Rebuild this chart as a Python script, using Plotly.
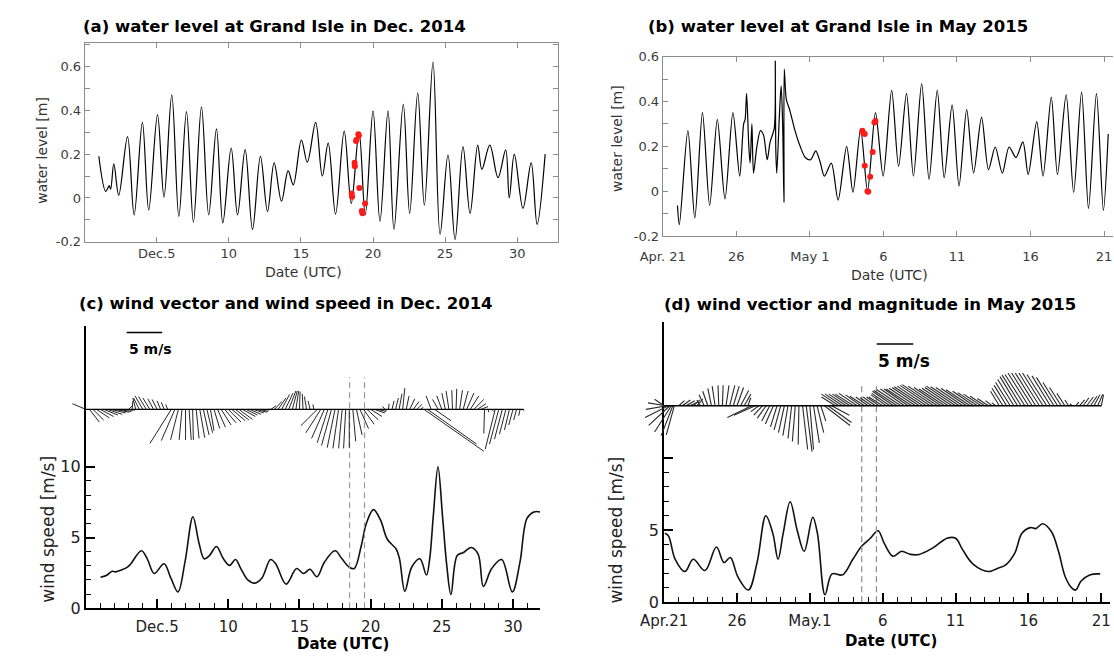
import plotly.graph_objects as go

W, H = 1114, 661
FONT = "DejaVu Sans"

# ---------------- data ----------------
# (a) water level at Grand Isle, Dec 2014 (day of December, m)
wl_dec_t = [0.98, 1.46, 1.7, 1.8, 2.02, 2.36, 2.97, 3.43, 4.0, 4.44, 5.05, 5.5, 6.04, 6.53, 7.06, 7.54,
            8.1, 8.6, 9.14, 9.58, 10.16, 10.6, 11.13, 11.64, 12.19, 12.68, 13.14, 13.65, 14.11, 14.47,
            15.03, 15.44, 16.02, 16.48, 16.89, 17.4, 18.0, 18.49, 19.03, 19.46, 20.0, 20.48, 21.04,
            21.45, 22.1, 22.54, 23.1, 23.56, 24.16, 24.65, 25.2, 25.69, 26.24, 26.73, 27.26, 27.55,
            28.1, 28.67, 29.2, 29.45, 29.8, 30.4, 30.97, 31.38, 31.94]
wl_dec_v = [0.19, 0.03, 0.056, 0.04, 0.155, 0.012, 0.28, -0.077, 0.345, -0.055, 0.38, 0.004, 0.47, -0.084,
            0.394, -0.11, 0.415, -0.077, 0.315, -0.114, 0.227, -0.077, 0.22, -0.144, 0.19, -0.062, 0.16,
            -0.015, 0.123, 0.06, 0.264, 0.163, 0.345, 0.1, 0.25, -0.074, 0.305, -0.025, 0.3, -0.077,
            0.397, -0.107, 0.397, -0.144, 0.427, -0.07, 0.479, -0.033, 0.62, -0.166, 0.197, -0.19,
            0.234, -0.07, 0.241, 0.13, 0.241, 0.093, 0.219, 0.0, 0.2, -0.047, 0.16, -0.12, 0.2]
red_dec_t = [18.52, 18.55, 18.72, 18.74, 18.82, 18.86, 18.98, 19.02, 19.05, 19.22, 19.27, 19.45]
red_dec_v = [0.02, 0.005, 0.16, 0.145, 0.26, 0.265, 0.29, 0.285, 0.045, -0.06, -0.07, -0.025]

# (b) water level at Grand Isle, Apr/May 2015 (days since Apr 21, m)
wl_may_t = [1.0, 1.13, 1.71, 2.18, 2.7, 3.19, 3.71, 4.23, 4.77, 5.23, 5.5, 5.6, 5.7, 5.85, 5.94, 6.06,
            6.17, 6.4, 6.64, 6.85, 7.1, 7.3, 7.58, 7.65, 7.68, 7.75, 7.93, 8.05, 8.15, 8.24, 8.26, 8.4,
            8.64, 8.99, 9.34, 9.69, 10.05, 10.4, 10.7, 10.99, 11.46, 11.92, 12.5, 12.93, 13.45, 13.92,
            14.46, 14.98, 15.56, 16.03, 16.57, 17.04, 17.6, 18.1, 18.66, 19.13, 19.67, 20.14, 20.66,
            21.13, 21.67, 22.14, 22.6, 23.08, 23.54, 24.01, 24.48, 24.84, 25.42, 25.85, 26.41, 26.83,
            27.42, 27.93, 28.47, 28.94, 29.48, 29.95, 30.28]
wl_may_v = [-0.064, -0.15, 0.27, -0.12, 0.35, -0.064, 0.32, -0.035, 0.35, 0.067, 0.3, 0.32, 0.436, 0.2,
            0.125, 0.3, 0.08, 0.2, 0.27, 0.25, 0.14, 0.22, 0.28, 0.58, 0.2, 0.08, 0.34, 0.47, 0.3, -0.05,
            0.545, 0.41, 0.36, 0.27, 0.2, 0.15, 0.14, 0.18, 0.13, 0.067, 0.125, -0.04, 0.2, -0.005, 0.277,
            0.0, 0.35, 0.067, 0.45, 0.11, 0.436, 0.067, 0.48, 0.052, 0.45, 0.06, 0.385, 0.023, 0.364,
            0.081, 0.33, 0.096, 0.197, 0.08, 0.197, 0.15, 0.22, 0.074, 0.31, 0.067, 0.42, 0.074, 0.43,
            -0.006, 0.443, -0.078, 0.436, -0.086, 0.255]
red_may_t = [13.57, 13.64, 13.73, 13.73, 13.92, 13.97, 14.1, 14.27, 14.39, 14.46]
red_may_v = [0.27, 0.258, 0.255, 0.113, 0.0, -0.003, 0.064, 0.175, 0.306, 0.313]

# (c) wind speed Dec 2014 (day of December, m/s)
spd_dec_t = [1.03, 1.5, 1.81, 2.1, 2.5, 2.92, 3.16, 3.9, 4.31, 4.8, 5.49, 5.98, 6.47, 6.96, 7.52, 7.94,
             8.31, 8.68, 9.17, 9.66, 10.1, 10.51, 10.88, 11.37, 11.86, 12.35, 12.97, 13.33, 14.07, 14.8,
             15.29, 15.74, 16.23, 16.76, 17.5, 17.99, 18.48, 18.85, 19.34, 19.7, 20.2, 20.69, 21.18,
             21.8, 22.03, 22.4, 22.89, 23.46, 23.92, 24.15, 24.4, 24.73, 25.05, 25.35, 25.64, 26.08,
             26.52, 27.06, 27.55, 27.92, 28.5, 29.2, 29.95, 30.49, 30.98, 31.47, 31.9]
spd_dec_v = [2.18, 2.35, 2.6, 2.57, 2.7, 2.9, 3.14, 4.06, 3.49, 2.45, 3.14, 2.1, 1.15, 3.26, 6.47, 4.63,
             3.49, 3.72, 4.36, 3.49, 3.03, 3.44, 2.8, 2.0, 1.77, 2.11, 3.44, 3.14, 1.7, 2.8, 2.45, 2.75,
             2.22, 3.26, 4.06, 3.49, 2.91, 2.8, 4.4, 6.0, 6.97, 6.24, 4.86, 4.17, 3.49, 1.19, 2.91, 3.49,
             2.34, 3.5, 6.5, 10.0, 6.5, 3.0, 0.96, 3.72, 3.94, 4.29, 3.83, 1.54, 2.8, 3.44, 1.15, 3.26,
             6.35, 6.81, 6.81]

# (d) wind speed Apr/May 2015 (days since Apr 21, m/s)
spd_may_t = [0.05, 0.3, 0.76, 1.43, 2.0, 2.8, 3.59, 4.11, 4.54, 5.07, 5.78, 6.38, 6.98, 7.46, 7.82, 8.17,
             8.65, 9.13, 9.61, 10.2, 10.52, 11.04, 11.52, 12.24, 12.95, 13.55, 14.15, 14.68, 15.1, 15.7,
             16.3, 16.9, 17.5, 18.45, 19.41, 20.0, 20.48, 21.2, 22.28, 22.87, 23.42, 24.07, 24.55,
             25.14, 25.5, 25.98, 26.58, 27.06, 27.53, 28.0, 28.25, 28.6, 29.2, 29.92]
spd_may_v = [4.78, 4.6, 2.98, 2.13, 2.98, 2.2, 3.83, 2.76, 3.1, 1.75, 0.85, 2.76, 6.0, 4.78, 2.98, 4.78,
             6.97, 5.0, 3.54, 5.9, 4.78, 0.52, 1.97, 1.9, 2.98, 3.88, 4.44, 4.96, 4.1, 3.2, 3.54, 3.32,
             3.32, 3.77, 4.44, 4.44, 3.65, 2.65, 2.13, 2.35, 2.58, 3.43, 4.78, 5.18, 5.11, 5.45, 4.89,
             3.54, 1.75, 0.96, 0.85, 1.46, 1.9, 1.97]

# (c) wind vectors Dec 2014 (day, u and v in m/s)
stk_dec_t = [0, 0.25, 0.5, 0.75, 1, 1.25, 1.5, 1.75, 2, 2.25, 2.5, 2.75, 3, 3.25, 3.5, 3.75, 4, 4.25, 4.5,
             4.75, 5, 5.25, 5.5, 5.75, 6, 6.25, 6.5, 6.75, 7, 7.25, 7.5, 7.75, 8, 8.25, 8.5, 8.75, 9, 9.25,
             9.5, 9.75, 10, 10.25, 10.5, 10.75, 11, 11.25, 11.5, 11.75, 12, 12.25, 12.5, 12.75, 13, 13.25,
             13.5, 13.75, 14, 14.25, 14.5, 14.75, 15, 15.25, 15.5, 15.75, 16, 16.25, 16.5, 16.75, 17,
             17.25, 17.5, 17.75, 18, 18.25, 18.5, 18.75, 19, 19.25, 19.5, 19.75, 20, 20.25, 20.5, 20.75,
             21, 21.25, 21.5, 21.75, 22, 22.25, 22.5, 22.75, 23, 23.25, 23.5, 23.75, 24, 24.25, 24.5,
             24.75, 25, 25.25, 25.5, 25.75, 26, 26.25, 26.5, 26.75, 27, 27.25, 27.5, 27.75, 28, 28.25,
             28.5, 28.75, 29, 29.25, 29.5, 29.75, 30, 30.25, 30.5, 30.75]
stk_dec_u = [-1.9, 1.4, 1.5, 1.8, 1.9, 2.0, 2.1, 2.1, 2.1, 1.9, 1.6, 1.4, 0.5, 0.1, -0.4, -0.8, -1.1, -1.1,
             -1.0, -0.8, -0.7, -0.5, -0.4, -0.3, -3.0, -1.9, -1.1, -0.4, 0.0, 0.3, 0.1, 0.4, 0.7, 0.8,
             0.8, 0.5, 0.8, 1.1, 1.4, 1.6, 1.8, 1.9, 1.9, 1.9, 1.8, 1.6, 1.6, 1.5, 1.4, 1.1, 0.8, 0.5,
             0.7, 1.0, 1.1, 1.1, 1.1, 1.0, 0.7, 0.4, 0.1, -0.1, -0.3, -0.3, -0.1, -2.3, -2.1, -1.8, -1.5,
             -1.4, -1.1, -0.8, -0.5, -0.3, 0.0, 0.4, 0.8, 1.2, 1.5, 1.6, 1.6, 1.5, 1.2, 0.8, -0.3, 0.1,
             0.3, 0.4, 0.4, 0.3, 0.4, 0.7, 0.8, 0.7, 0.4, 8.4, 6.9, -0.7, 2.3, -0.8, -0.7, -0.5, -0.4,
             -0.1, 0.1, 0.4, 0.7, 1.0, 1.2, 1.4, 1.2, 1.0, -0.1, 0.1, 0.3, -1.4, -1.3, -1.1, -0.9, -0.7,
             -0.6, -0.4, -0.2, 0.0]
stk_dec_v = [0.8, -1.8, -1.5, -1.2, -1.0, -0.8, -0.7, -0.5, -0.4, -0.3, -0.1, -0.1, 0.5, 1.2, 1.6, 1.6,
             1.9, 1.8, 1.6, 1.5, 1.4, 1.2, 1.0, 0.7, -4.8, -4.4, -4.3, -4.3, -4.3, -4.3, -4.3, -4.1, -4.0,
             -3.6, -3.3, -3.0, -2.7, -2.5, -2.2, -1.9, -1.8, -1.6, -1.5, -1.4, -1.0, -0.8, -0.7, -0.5,
             -0.4, -0.3, -0.1, 0.0, 0.5, 1.1, 1.6, 2.1, 2.3, 2.6, 2.6, 2.6, 2.5, 2.2, 1.8, 1.2, 0.7, -2.3,
             -3.3, -4.1, -4.7, -5.1, -5.4, -5.5, -5.5, -5.5, -5.4, -4.5, -3.6, -2.7, -2.1, -1.5, -1.0,
             -0.5, -0.3, -0.1, 0.4, 0.8, 1.2, 1.6, 2.2, 3.0, 1.9, 1.5, 1.1, 0.7, 0.3, -5.9, -4.9, 1.9,
             -1.6, 1.4, 1.9, 2.3, 2.6, 2.7, 2.9, 2.7, 2.6, 2.3, 1.9, 1.4, 0.8, 0.4, -3.4, -0.4, -0.3,
             -5.6, -4.9, -4.2, -3.5, -2.9, -2.2, -1.5, -0.9, -0.2]

# (d) wind vectors Apr/May 2015 (days since Apr 21, u and v in m/s)
stk_may_t = [0, 0.1, 0.2, 0.3, 0.4, 0.5, 0.6, 0.7, 1, 1.25, 1.5, 1.75, 2, 2.25, 2.5, 2.75, 3, 3.25, 3.5,
             3.75, 4, 4.25, 4.5, 4.75, 5, 5.25, 5.5, 5.75, 6, 6.25, 6.5, 6.75, 7, 7.25, 7.5, 7.75, 8, 8.25,
             8.5, 8.75, 9, 9.25, 9.5, 9.75, 10, 10.25, 10.5, 10.75, 11, 11.25, 11.5, 11.75, 12, 12.25,
             12.5, 12.75, 13, 13.25, 13.5, 13.75, 14, 14.25, 14.5, 14.75, 15, 15.25, 15.5, 15.75, 16,
             16.25, 16.5, 16.75, 17, 17.25, 17.5, 17.75, 18, 18.25, 18.5, 18.75, 19, 19.25, 19.5, 19.75,
             20, 20.25, 20.5, 20.75, 21, 21.25, 21.5, 21.75, 22, 22.25, 22.5, 22.75, 23, 23.25, 23.5,
             23.75, 24, 24.25, 24.5, 24.75, 25, 25.25, 25.5, 25.75, 26, 26.25, 26.5, 26.75, 27, 27.25,
             27.5, 27.75, 28, 28.25, 28.5, 28.75, 29, 29.25, 29.5, 29.75, 30]
stk_may_u = [-1.3, -2.4, -2.9, -3.2, -2.9, -2.3, -1.6, -1.1, 0.8, 1.1, 1.2, 1.1, 0.9, 0.8, -0.5, -0.7,
             -0.7, -0.5, -0.4, -0.1, 0.1, 0.4, 0.7, 0.8, 0.9, 1.1, 0.9, 0.4, -3.3, -2.9, -1.1, -1.2, -1.2,
             -1.1, -1.1, -0.9, -0.9, -0.8, -0.7, -0.5, -0.4, -0.1, 0.7, 0.8, 0.5, 0.8, 0.9, 0.7, 3.5, 3.2,
             2.4, -1.9, -2.4, -2.4, -2.4, -2.4, -2.5, -2.5, -2.1, -2.0, -1.7, -1.6, -1.7, -1.7, -1.9,
             -2.1, -2.5, -2.9, -3.2, -3.3, -3.3, -3.3, -3.5, -3.6, -3.7, -3.9, -4.0, -4.1, -4.3, -4.0,
             -3.7, -3.5, -3.6, -3.7, -4.0, -3.9, -3.7, -3.5, -3.3, -2.9, -2.7, -2.4, -2.0, -1.5, -0.9,
             -0.5, -1.2, -1.5, -1.7, -2.0, -2.2, -2.4, -2.6, -2.7, -2.8, -2.8, -2.8, -2.8, -2.8, -2.7,
             -2.5, -2.4, -2.0, -1.6, -1.1, -0.5, -0.3, 0.4, 0.7, 0.8, 0.9, 0.9, 0.8, 0.7, 0.3]
stk_may_v = [0.9, 0.4, -0.5, -1.6, -2.7, -3.6, -4.1, -4.0, 0.7, 0.8, 0.7, 0.5, 0.8, 0.9, 0.8, 1.5, 2.0,
             2.4, 2.7, 2.8, 2.8, 2.8, 2.8, 2.7, 2.5, 2.1, 1.6, 1.1, -1.6, -1.3, -0.8, -1.3, -1.7, -2.1,
             -2.5, -2.9, -3.3, -3.7, -4.1, -4.5, -4.9, -5.3, -6.0, -6.3, -6.0, -5.1, -3.7, -2.1, -2.7,
             -2.3, -1.3, 1.2, 1.6, 1.6, 1.6, 1.6, 1.6, 1.7, 1.5, 1.3, 1.2, 1.1, 1.2, 1.2, 1.2, 1.5, 1.7,
             2.0, 2.1, 2.2, 2.3, 2.3, 2.3, 2.4, 2.5, 2.6, 2.7, 2.8, 2.9, 2.7, 2.5, 2.3, 2.4, 2.5, 2.7,
             2.6, 2.5, 2.4, 2.2, 2.0, 1.8, 1.6, 1.3, 1.0, 0.7, 0.4, 2.0, 2.4, 2.8, 3.2, 3.6, 4.0, 4.2,
             4.3, 4.5, 4.5, 4.5, 4.5, 4.5, 4.3, 4.1, 3.9, 3.2, 2.5, 1.7, 0.8, 0.3, 0.5, 0.8, 1.1, 1.2,
             1.3, 1.5, 1.6, 1.5]

event_dec = [18.52, 19.57]
event_may = [13.56, 14.57]

dec_tickvals = [5, 10, 15, 20, 25, 30]
dec_ticktext = ["Dec.5", "10", "15", "20", "25", "30"]
may_tickvals = [0, 5, 10, 15, 20, 25, 30]
may_ticktext_top = ["Apr. 21", "26", "May 1", "6", "11", "16", "21"]
may_ticktext_bot = ["Apr.21", "26", "May.1", "6", "11", "16", "21"]
wl_tickvals = [-0.2, 0, 0.2, 0.4, 0.6]
wl_ticktext = ["-0.2", "0", "0.2", "0.4", "0.6"]

# ---------------- layout geometry (pixels) ----------------
def fx(p):
    return p / W


def fy(p):
    return 1 - p / H


B_X0, B_PPD = 653.4, 15.05
C_X0, C_X1, C_XMAX = 63.3, 527.9, 31.9
C_Y0, C_Y1, C_YMAX = 617, 327, 20
D_X0, D_X1, D_XMAX = 654.8, 1111, 30.6
D_Y0, D_Y1 = 611, 323
D_YMAX = (D_Y0 - D_Y1) / 14.8

ppd_c = (C_X1 - C_X0) / C_XMAX
ppd_d = (D_X1 - D_X0) / D_XMAX
ppy_c = (C_Y0 - C_Y1) / C_YMAX
ppy_d = (D_Y0 - D_Y1) / D_YMAX
pms_c = 36.4 / 5.0   # stick scale, px per m/s
pms_d = 37.4 / 5.0
base_c = 413.0
base_d = 409.3

SC_X = (20, 545)
SD_X = (600, 1114)
S_Y = (330, 480)

fig = go.Figure()

blk = "black"
fig.add_trace(go.Scatter(x=wl_dec_t, y=wl_dec_v, mode="lines",
                         line=dict(color=blk, width=1.2, shape="spline", smoothing=1.0),
                         xaxis="x", yaxis="y", showlegend=False))
fig.add_trace(go.Scatter(x=red_dec_t, y=red_dec_v, mode="markers",
                         marker=dict(color="#ff1a1a", size=6), xaxis="x", yaxis="y", showlegend=False))
fig.add_trace(go.Scatter(x=wl_may_t, y=wl_may_v, mode="lines",
                         line=dict(color=blk, width=1.2, shape="spline", smoothing=0.8),
                         xaxis="x2", yaxis="y2", showlegend=False))
fig.add_trace(go.Scatter(x=red_may_t, y=red_may_v, mode="markers",
                         marker=dict(color="#ff1a1a", size=6), xaxis="x2", yaxis="y2", showlegend=False))
fig.add_trace(go.Scatter(x=spd_dec_t, y=spd_dec_v, mode="lines",
                         line=dict(color="#111", width=1.6, shape="spline", smoothing=1.0),
                         xaxis="x3", yaxis="y3", showlegend=False))
fig.add_trace(go.Scatter(x=spd_may_t, y=spd_may_v, mode="lines",
                         line=dict(color="#111", width=1.6, shape="spline", smoothing=1.0),
                         xaxis="x4", yaxis="y4", showlegend=False))

ev_top_c = (C_Y0 - 380) / ppy_c
ev_top_d = (D_Y0 - 388) / ppy_d
for t in event_dec:
    fig.add_trace(go.Scatter(x=[t, t], y=[0, ev_top_c], mode="lines",
                             line=dict(color="#9a9a9a", width=1.2, dash="6px,4px"),
                             xaxis="x3", yaxis="y3", showlegend=False))
for t in event_may:
    fig.add_trace(go.Scatter(x=[t, t], y=[0, ev_top_d], mode="lines",
                             line=dict(color="#8a8a8a", width=1.2, dash="6px,4px"),
                             xaxis="x4", yaxis="y4", showlegend=False))


def sticks(ts, us, vs, k):
    xs, ys = [], []
    for t, u, v in zip(ts, us, vs):
        xs += [t, t + u * k, None]
        ys += [0, v, None]
    return xs, ys


kc = pms_c / ppd_c
kd = pms_d / ppd_d
xs, ys = sticks(stk_dec_t, stk_dec_u, stk_dec_v, kc)
fig.add_trace(go.Scatter(x=xs, y=ys, mode="lines", line=dict(color="#1a1a1a", width=0.95),
                         xaxis="x5", yaxis="y5", showlegend=False))
fig.add_trace(go.Scatter(x=[stk_dec_t[0], stk_dec_t[-1]], y=[0, 0], mode="lines",
                         line=dict(color="black", width=1.3), xaxis="x5", yaxis="y5", showlegend=False))
xs, ys = sticks(stk_may_t, stk_may_u, stk_may_v, kd)
fig.add_trace(go.Scatter(x=xs, y=ys, mode="lines", line=dict(color="#2a2a2a", width=1.1),
                         xaxis="x6", yaxis="y6", showlegend=False))
fig.add_trace(go.Scatter(x=[stk_may_t[0], stk_may_t[-1]], y=[0, 0], mode="lines",
                         line=dict(color="black", width=1.3), xaxis="x6", yaxis="y6", showlegend=False))

REF = 5.0
sb_c_x0 = (105 - C_X0) / ppd_c
sb_c_y = (base_c - 334) / pms_c
fig.add_trace(go.Scatter(x=[sb_c_x0, sb_c_x0 + REF * kc], y=[sb_c_y, sb_c_y], mode="lines",
                         line=dict(color="black", width=1.5), xaxis="x5", yaxis="y5", showlegend=False))
sb_d_x0 = (872.3 - D_X0) / ppd_d
sb_d_y = (base_d - 346) / pms_d
fig.add_trace(go.Scatter(x=[sb_d_x0, sb_d_x0 + REF * kd], y=[sb_d_y, sb_d_y], mode="lines",
                         line=dict(color="black", width=1.5), xaxis="x6", yaxis="y6", showlegend=False))

# ---------------- axes ----------------
grey = "#8c8c8c"
tfont_up = dict(family=FONT, size=13, color="#3c3c3c")
tfont_lo_x = dict(family=FONT, size=15, color="#222")
tfont_lo_y = dict(family=FONT, size=16, color="#222")

up_x = dict(showline=True, linecolor=grey, linewidth=1, mirror="ticks", ticks="inside", ticklen=5,
            tickcolor=grey, tickfont=tfont_up, showgrid=False, zeroline=False, fixedrange=True)
up_y = dict(showline=True, linecolor=grey, linewidth=1, ticks="inside", ticklen=5, tickcolor=grey,
            tickfont=tfont_up, showgrid=False, zeroline=False, fixedrange=True,
            tickvals=wl_tickvals, ticktext=wl_ticktext,
            minor=dict(tick0=0, dtick=0.1, ticks="inside", ticklen=5, tickcolor=grey))
lo_x = dict(showline=True, linecolor="black", linewidth=2, ticks="inside", ticklen=9, tickwidth=1.5,
            tickcolor="black", tickfont=tfont_lo_x, showgrid=False, zeroline=False, fixedrange=True,
            ticklabelstandoff=4,
            minor=dict(tick0=0, dtick=1, ticks="inside", ticklen=5, tickwidth=1.2, tickcolor="black"))
lo_y = dict(showline=True, linecolor="black", linewidth=2, ticks="inside", ticklen=9, tickwidth=1.5,
            tickcolor="black", tickfont=tfont_lo_y, showgrid=False, zeroline=False, fixedrange=True,
            tickvals=[0, 5, 10],
            minor=dict(tickmode="array", tickvals=[1, 2, 3, 4, 6, 7, 8, 9], ticks="inside", ticklen=5,
                       tickwidth=1.2, tickcolor="black"))
hidden = dict(visible=False, showgrid=False, zeroline=False, fixedrange=True)

fig.update_layout(
    width=W, height=H, margin=dict(l=0, r=0, t=0, b=0),
    paper_bgcolor="white", plot_bgcolor="rgba(0,0,0,0)",
    font=dict(family=FONT, color="#222"),
    xaxis=dict(up_x, domain=[fx(62.1), fx(546.4)], range=[0, 32.84], anchor="y",
               tickvals=dec_tickvals, ticktext=dec_ticktext),
    yaxis=dict(up_y, domain=[fy(241), fy(37.3)], range=[-0.2, 0.705], anchor="x", mirror="ticks"),
    xaxis2=dict(up_x, domain=[fx(B_X0), 1.0], range=[0, (W - B_X0) / B_PPD], anchor="y2",
                tickvals=may_tickvals, ticktext=may_ticktext_top, ticklabelstandoff=8,
                ticklabeloverflow="allow"),
    yaxis2=dict(up_y, domain=[fy(235), fy(51)], range=[-0.2, 0.6], anchor="x2", mirror=False),
    xaxis3=dict(lo_x, domain=[fx(C_X0), fx(C_X1)], range=[0, C_XMAX], anchor="y3",
                tickvals=dec_tickvals, ticktext=dec_ticktext),
    yaxis3=dict(lo_y, domain=[fy(C_Y0), fy(C_Y1)], range=[0, C_YMAX], anchor="x3",
                ticktext=["0", "5", "10"]),
    xaxis4=dict(lo_x, domain=[fx(D_X0), fx(D_X1)], range=[0, D_XMAX], anchor="y4",
                tickvals=may_tickvals, ticktext=may_ticktext_bot, ticklabeloverflow="allow"),
    yaxis4=dict(lo_y, domain=[fy(D_Y0), fy(D_Y1)], range=[0, D_YMAX], anchor="x4",
                ticktext=["0", "5", ""]),
    xaxis5=dict(hidden, domain=[fx(SC_X[0]), fx(SC_X[1])], anchor="y5",
                range=[(SC_X[0] - C_X0) / ppd_c, (SC_X[1] - C_X0) / ppd_c]),
    yaxis5=dict(hidden, domain=[fy(S_Y[1]), fy(S_Y[0])], anchor="x5",
                range=[-(S_Y[1] - base_c) / pms_c, (base_c - S_Y[0]) / pms_c]),
    xaxis6=dict(hidden, domain=[fx(SD_X[0]), fx(SD_X[1])], anchor="y6",
                range=[(SD_X[0] - D_X0) / ppd_d, (SD_X[1] - D_X0) / ppd_d]),
    yaxis6=dict(hidden, domain=[fy(S_Y[1]), fy(S_Y[0])], anchor="x6",
                range=[-(S_Y[1] - base_d) / pms_d, (base_d - S_Y[0]) / pms_d]),
)


def note(text, x, y, size, bold=False, angle=0, xanchor="center", color="#222"):
    t = "<b>%s</b>" % text if bold else text
    fig.add_annotation(text=t, x=fx(x), y=fy(y), xref="paper", yref="paper", showarrow=False,
                       xanchor=xanchor, yanchor="middle", textangle=angle,
                       font=dict(family=FONT, size=size, color=color))


note("(a) water level at Grand Isle in Dec. 2014", 256.5, 20, 16.5, bold=True, color="black")
note("(b) water level at Grand Isle in May 2015", 833, 20, 16.5, bold=True, color="black")
note("(c) wind vector and wind speed in Dec. 2014", 268, 304, 16.5, bold=True, color="black")
note("(d) wind vectior and magnitude in May 2015", 865, 305, 16.5, bold=True, color="black")
note("Date (UTC)", 286, 272, 14, color="#333")
note("Date (UTC)", 885, 275, 14, color="#333")
note("water level [m]", 19, 147, 14, angle=-90, color="#333")
note("water level [m]", 606, 135, 14, angle=-90, color="#333")
note("wind speed [m/s]", 25, 536, 17, angle=-90)
note("wind speed [m/s]", 606, 537, 17, angle=-90)
note("Date (UTC)", 326, 654, 15, bold=True, color="black")
note("Date (UTC)", 886.5, 651, 15, bold=True, color="black")
note("5 m/s", 105, 351, 14, bold=True, xanchor="left", color="black")
note("5 m/s", 872, 363, 17, bold=True, xanchor="left", color="black")

fig.write_html("out.html")
